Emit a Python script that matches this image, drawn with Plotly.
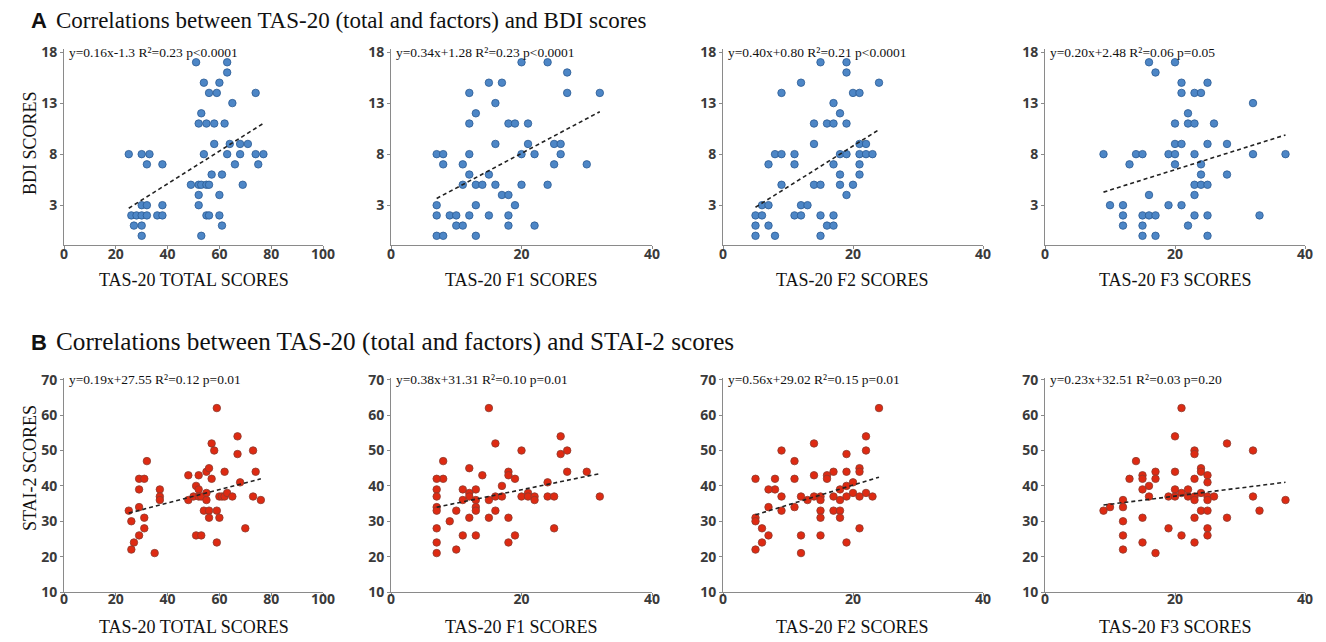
import plotly.graph_objects as go

# ---------------- DATA ----------------
# Row A: BDI scores vs TAS-20 (total, F1, F2, F3)
bdi_total_x = [25, 30, 33, 54, 63, 68, 74, 77, 32, 38, 66, 75, 58, 64, 68, 71, 51, 63, 63, 54, 60,
               56, 59, 74, 65, 53, 52, 55, 58, 62, 57, 61, 49, 52, 53, 55, 56, 69, 52, 60,
               30, 32, 38, 52, 26, 28, 30, 32, 36, 38, 55, 56, 60, 27, 30, 61, 30, 53]
bdi_total_y = [8, 8, 8, 8, 8, 8, 8, 8, 7, 7, 7, 7, 9, 9, 9, 9, 17, 17, 16, 15, 15,
               14, 14, 14, 13, 12, 11, 11, 11, 11, 6, 6, 5, 5, 5, 5, 5, 5, 4, 4,
               3, 3, 3, 3, 2, 2, 2, 2, 2, 2, 2, 2, 2, 1, 1, 1, 0, 0]

bdi_f1_x = [20, 24, 27, 15, 17, 12, 27, 32, 16, 13, 12, 18, 19, 21, 16, 21, 25, 26,
            7, 8, 12, 20, 22, 26, 8, 11, 25, 30, 12, 15, 11, 13, 14, 16, 20, 24, 17, 18,
            7, 13, 19, 7, 9, 10, 12, 15, 18, 10, 11, 18, 22, 7, 8, 13]
bdi_f1_y = [17, 17, 16, 15, 15, 14, 14, 14, 13, 12, 11, 11, 11, 11, 9, 9, 9, 9,
            8, 8, 8, 8, 8, 8, 7, 7, 7, 7, 6, 6, 5, 5, 5, 5, 5, 5, 4, 4,
            3, 3, 3, 2, 2, 2, 2, 2, 2, 1, 1, 1, 1, 0, 0, 0]

bdi_f2_x = [15, 19, 19, 12, 24, 9, 20, 21, 17, 18, 14, 16, 17, 19, 14, 21, 22,
            8, 9, 11, 18, 19, 21, 22, 23, 7, 11, 17, 21, 18, 21, 9, 14, 15, 18, 20, 19,
            6, 7, 12, 13, 5, 6, 11, 12, 15, 17, 5, 7, 16, 17, 5, 8, 15]
bdi_f2_y = [17, 17, 16, 15, 15, 14, 14, 14, 13, 12, 11, 11, 11, 11, 9, 9, 9,
            8, 8, 8, 8, 8, 8, 8, 8, 7, 7, 7, 7, 6, 6, 5, 5, 5, 5, 5, 4,
            3, 3, 3, 3, 2, 2, 2, 2, 2, 2, 1, 1, 1, 1, 0, 0, 0]

bdi_f3_x = [16, 20, 17, 21, 25, 21, 23, 24, 32, 22, 20, 22, 23, 26, 20, 21, 25, 28,
            9, 14, 15, 19, 20, 23, 32, 37, 13, 20, 24, 24, 28, 23, 24, 25, 16, 23,
            10, 12, 19, 21, 12, 15, 16, 17, 23, 25, 33, 12, 15, 22, 15, 17, 25]
bdi_f3_y = [17, 17, 16, 15, 15, 14, 14, 14, 13, 12, 11, 11, 11, 11, 9, 9, 9, 9,
            8, 8, 8, 8, 8, 8, 8, 8, 7, 7, 7, 6, 6, 5, 5, 5, 4, 4,
            3, 3, 3, 3, 2, 2, 2, 2, 2, 2, 2, 1, 1, 1, 0, 0, 0]

# Row B: STAI-2 scores vs TAS-20 (total, F1, F2, F3)
stai_total_x = [59, 67, 57, 58, 67, 73, 32, 48, 52, 55, 56, 62, 74, 29, 31, 57, 29, 37, 68, 51,
                52, 37, 37, 48, 50, 52, 53, 55, 55, 60, 61, 62, 63, 65, 73, 76, 25, 29, 54, 56,
                59, 26, 31, 56, 60, 31, 70, 29, 51, 53, 27, 59, 26, 35]
stai_total_y = [62, 54, 52, 50, 49, 50, 47, 43, 43, 44, 45, 44, 44, 42, 42, 42, 39, 39, 41, 40,
                39, 37, 36, 36, 37, 37, 37, 36, 38, 37, 37, 37, 38, 37, 37, 36, 33, 34, 33, 33,
                33, 30, 31, 31, 31, 28, 28, 26, 26, 26, 24, 24, 22, 21]

stai_f1_x = [15, 26, 16, 20, 26, 27, 8, 12, 18, 18, 14, 19, 27, 30, 8, 24, 17, 11, 13, 12,
             12, 11, 13, 15, 16, 17, 20, 21, 21, 22, 22, 24, 25, 32, 13, 13, 10, 16, 9, 12,
             15, 18, 25, 11, 13, 19, 18, 10, 7, 7, 7, 7, 7, 7, 7, 7]
stai_f1_y = [62, 54, 52, 50, 49, 50, 47, 45, 44, 43, 43, 42, 44, 44, 42, 41, 40, 39, 39, 38,
             37, 36, 36, 36, 37, 37, 37, 38, 37, 37, 36, 37, 37, 37, 34, 33, 33, 33, 30, 31,
             31, 31, 28, 26, 26, 26, 24, 22, 42, 39, 37, 34, 33, 28, 24, 21]

stai_f2_x = [24, 22, 14, 19, 22, 9, 11, 21, 21, 17, 19, 16, 16, 14, 8, 11, 20, 19, 8, 18,
             20, 22, 9, 12, 13, 14, 15, 15, 17, 18, 19, 21, 23, 9, 11, 15, 17, 18, 15, 18,
             21, 12, 15, 19, 12, 5, 5, 5, 5, 6, 6, 7, 7, 7]
stai_f2_y = [62, 54, 52, 49, 50, 50, 47, 45, 44, 44, 44, 43, 42, 43, 42, 42, 41, 40, 39, 39,
             38, 38, 37, 37, 36, 37, 37, 36, 37, 36, 37, 37, 37, 33, 34, 33, 33, 33, 31, 31,
             28, 26, 26, 24, 21, 42, 31, 30, 22, 28, 24, 39, 34, 26]

stai_f3_x = [21, 20, 28, 32, 23, 23, 14, 24, 24, 17, 20, 15, 15, 25, 13, 17, 23, 25, 16, 15,
             20, 22, 16, 19, 20, 21, 22, 23, 23, 24, 25, 25, 26, 32, 12, 37, 9, 10, 12, 24,
             25, 33, 12, 15, 23, 28, 19, 25, 12, 21, 25, 15, 23, 12, 17]
stai_f3_y = [62, 54, 52, 50, 50, 49, 47, 45, 44, 44, 44, 43, 42, 43, 42, 42, 42, 41, 40, 39,
             39, 39, 37, 37, 37, 38, 37, 37, 36, 38, 37, 36, 37, 37, 36, 36, 33, 34, 34, 33,
             33, 33, 30, 31, 31, 31, 28, 28, 26, 26, 26, 24, 24, 22, 21]

# regression coefficients (as printed on the chart)
bdi_slopes = [0.16, 0.34, 0.40, 0.20]
bdi_intercepts = [-1.3, 1.28, 0.80, 2.48]
stai_slopes = [0.19, 0.38, 0.56, 0.23]
stai_intercepts = [27.55, 31.31, 29.02, 32.51]

bdi_labels = ["y=0.16x-1.3 R²=0.23 p<0.0001", "y=0.34x+1.28 R²=0.23 p<0.0001",
              "y=0.40x+0.80 R²=0.21 p<0.0001", "y=0.20x+2.48 R²=0.06 p=0.05"]
stai_labels = ["y=0.19x+27.55 R²=0.12 p=0.01", "y=0.38x+31.31 R²=0.10 p=0.01",
               "y=0.56x+29.02 R²=0.15 p=0.01", "y=0.23x+32.51 R²=0.03 p=0.20"]

x_titles = ["TAS-20 TOTAL SCORES", "TAS-20 F1 SCORES", "TAS-20 F2 SCORES", "TAS-20 F3 SCORES"]
x_ranges = [[0, 100], [0, 40], [0, 40], [0, 40]]
x_ticks = [[0, 20, 40, 60, 80, 100], [0, 20, 40], [0, 20, 40], [0, 20, 40]]
bdi_yticks = [3, 8, 13, 18]
stai_yticks = [10, 20, 30, 40, 50, 60, 70]

panel_a_title = "Correlations between TAS-20 (total and factors) and BDI scores"
panel_b_title = "Correlations between TAS-20 (total and factors) and STAI-2 scores"

# ---------------- LAYOUT GEOMETRY ----------------
# the page body has an 8px margin, so the figure is sized and offset to compensate
PAGE_OFF = 8
W, H = 1326 - PAGE_OFF, 642 - PAGE_OFF
col_px = [(64, 323), (391, 652), (723, 983), (1045, 1305)]
rowA_px = (49, 245)
rowB_px = (378, 592)


def fx(px):
    return (px - PAGE_OFF) / W


def fy(py):
    return 1 - (py - PAGE_OFF) / H


BLUE = "#4d86c6"
BLUE_EDGE = "#2b5b93"
RED = "#de2a12"
RED_EDGE = "#8c3b2e"
AXIS_COL = "#8a8a8a"
TICK_FONT = dict(family="Open Sans", size=14, color="#3a3a3a", weight="bold")
SERIF = "Liberation Serif"

fig = go.Figure()
layout = {}
annotations = []

rows = [
    dict(xs=[bdi_total_x, bdi_f1_x, bdi_f2_x, bdi_f3_x],
         ys=[bdi_total_y, bdi_f1_y, bdi_f2_y, bdi_f3_y],
         slopes=bdi_slopes, inters=bdi_intercepts, labels=bdi_labels,
         yrange=[-0.9, 18.3], yticks=bdi_yticks, ytop=18, px=rowA_px,
         color=BLUE, edge=BLUE_EDGE, xtitle_y=280, xstandoff=-7),
    dict(xs=[stai_total_x, stai_f1_x, stai_f2_x, stai_f3_x],
         ys=[stai_total_y, stai_f1_y, stai_f2_y, stai_f3_y],
         slopes=stai_slopes, inters=stai_intercepts, labels=stai_labels,
         yrange=[10, 70.5], yticks=stai_yticks, ytop=70, px=rowB_px,
         color=RED, edge=RED_EDGE, xtitle_y=627, xstandoff=-9),
]

idx = 0
for r, row in enumerate(rows):
    for c in range(4):
        idx += 1
        xa = "x" if idx == 1 else f"x{idx}"
        ya = "y" if idx == 1 else f"y{idx}"
        xs, ys = row["xs"][c], row["ys"][c]
        fig.add_trace(go.Scatter(
            x=xs, y=ys, mode="markers", xaxis=xa, yaxis=ya, showlegend=False,
            marker=dict(size=7.5, color=row["color"], line=dict(color=row["edge"], width=0.8)),
        ))
        lx = [min(xs), max(xs)]
        ly = [row["slopes"][c] * v + row["inters"][c] for v in lx]
        fig.add_trace(go.Scatter(
            x=lx, y=ly, mode="lines", xaxis=xa, yaxis=ya, showlegend=False,
            line=dict(color="#222222", width=1.6, dash="4px,3px"),
        ))
        x0, x1 = col_px[c]
        y0, y1 = row["px"]
        layout["xaxis" if idx == 1 else f"xaxis{idx}"] = dict(
            domain=[fx(x0), fx(x1)], anchor=ya, range=x_ranges[c], automargin=False,
            tickvals=x_ticks[c], showgrid=False, zeroline=False,
            showline=True, linecolor=AXIS_COL, linewidth=1,
            ticks="outside", ticklen=3, tickcolor=AXIS_COL, tickfont=TICK_FONT,
            ticklabelstandoff=row["xstandoff"],
        )
        layout["yaxis" if idx == 1 else f"yaxis{idx}"] = dict(
            domain=[fy(y1), fy(y0)], anchor=xa, range=row["yrange"], automargin=False,
            tickvals=row["yticks"], showgrid=False, zeroline=False,
            showline=True, linecolor=AXIS_COL, linewidth=1,
            ticks="outside", ticklen=3, tickcolor=AXIS_COL, tickfont=TICK_FONT,
        )
        # equation text
        annotations.append(dict(
            text=row["labels"][c], xref=f"{xa} domain", x=0.01, xanchor="left",
            yref=ya, y=row["ytop"], yanchor="middle", showarrow=False,
            font=dict(family=SERIF, size=13.5, color="#111111"),
        ))
        # x axis title
        annotations.append(dict(
            text=x_titles[c], xref=f"{xa} domain", x=0.5, xanchor="center",
            yref="paper", y=fy(row["xtitle_y"]), yanchor="middle", showarrow=False,
            font=dict(family=SERIF, size=18, color="#111111"),
        ))

# y axis titles
annotations.append(dict(text="BDI SCORES", xref="paper", x=fx(30), yref="paper", y=fy(143),
                        textangle=-90, showarrow=False, xanchor="center", yanchor="middle",
                        font=dict(family=SERIF, size=18, color="#111111")))
annotations.append(dict(text="STAI-2 SCORES", xref="paper", x=fx(30), yref="paper", y=fy(468),
                        textangle=-90, showarrow=False, xanchor="center", yanchor="middle",
                        font=dict(family=SERIF, size=18, color="#111111")))

# panel titles
for letter, txt, ty, tsize in [("A", panel_a_title, 21, 23), ("B", panel_b_title, 342, 25.2)]:
    annotations.append(dict(text=f"<b>{letter}</b>", xref="paper", x=fx(29), xanchor="left",
                            yref="paper", y=fy(ty), yanchor="middle", showarrow=False,
                            font=dict(family="Liberation Sans", size=22, color="#111111")))
    annotations.append(dict(text=txt, xref="paper", x=fx(54), xanchor="left",
                            yref="paper", y=fy(ty), yanchor="middle", showarrow=False,
                            font=dict(family=SERIF, size=tsize, color="#111111")))

fig.update_layout(
    width=W, height=H, margin=dict(l=0, r=0, t=0, b=0, autoexpand=False),
    paper_bgcolor="white", plot_bgcolor="white",
    annotations=annotations, **layout,
)

fig.write_html("out.html")
